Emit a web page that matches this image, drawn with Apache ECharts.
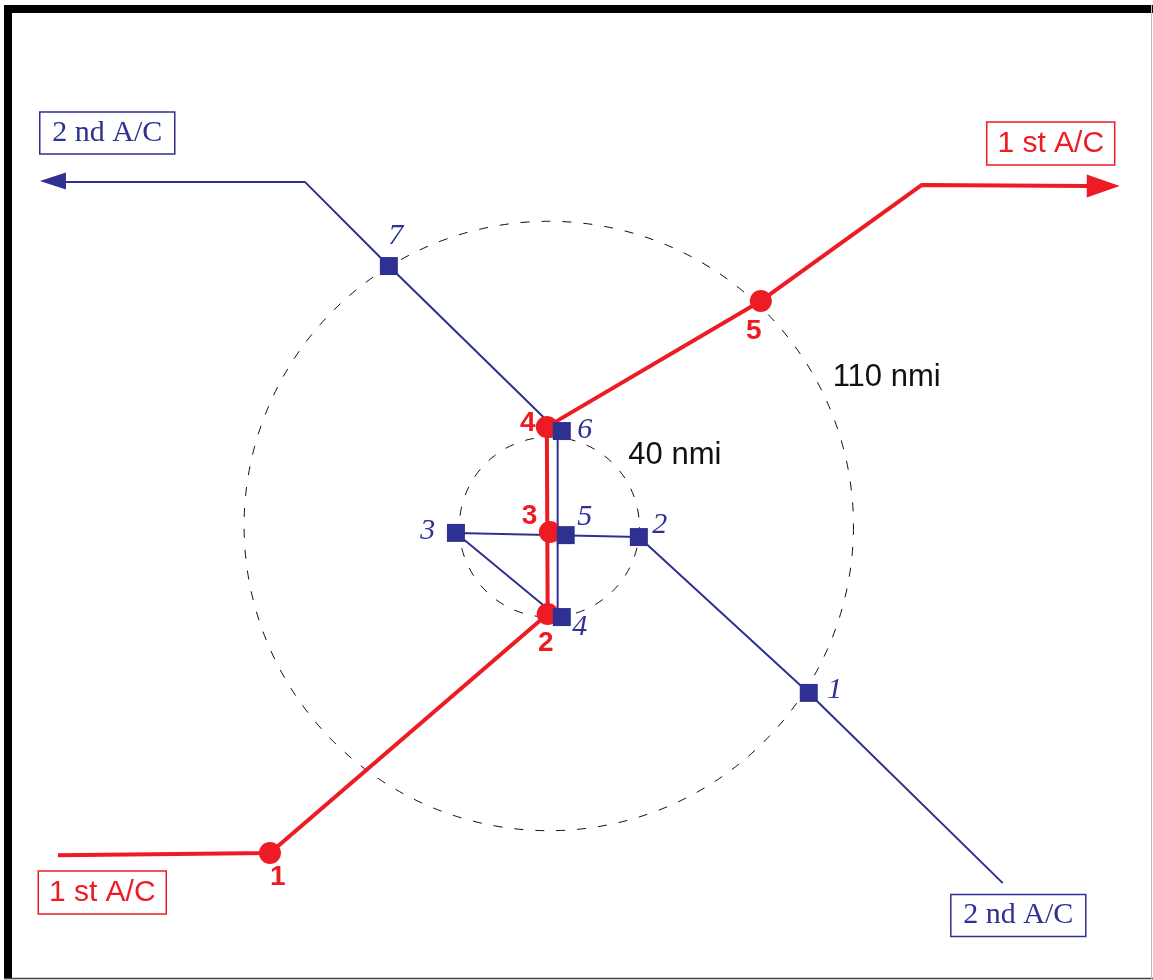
<!DOCTYPE html>
<html>
<head>
<meta charset="utf-8">
<script src="https://cdn.jsdelivr.net/npm/echarts@6/dist/echarts.min.js"></script>
<style>
  html, body { margin: 0; padding: 0; background: #fff; }
  #chart { width: 1153px; height: 980px; }
</style>
</head>
<body>
<div id="chart"></div>
<script>
// ---- Data (units: nmi-like plot units, centre of conflict at 0,0) ----
// Range circles: [cx, cy, radius]
const rangeCircles = [[0, 0, 110], [0.2, -0.4, 32.5]];
const rangeLabels = [
  { name: '110 nmi', value: [121.9, 53.5] },
  { name: '40 nmi', value: [45.5, 25.6] }
];

// 1st aircraft (red) trajectory vertices
const redPath = [[-177.1, -118.9], [-100.6, -118.1], [-0.4, -31.8], [-0.7, 35.8], [76.5, 81.3], [134.6, 123.2], [195.2, 122.8]];
// 1st aircraft waypoints 1..5
const redPoints = [[-100.6, -118.1], [-0.4, -31.8], [0.4, -2.2], [-0.7, 35.8], [76.5, 81.3]];
const redPointLabels = [
  { name: '1', value: [-97.8, -126.8] },
  { name: '2', value: [-1.1, -42.3] },
  { name: '3', value: [-6.9, 3.6] },
  { name: '4', value: [-7.6, 37.2] },
  { name: '5', value: [74.0, 70.4] }
];
const redArrow = [[206.0, 122.8, 1]];
const redBoxes = [
  { name: '1 st A/C', value: [181.1, 138.2] },
  { name: '1 st A/C', value: [-161.1, -132.4] }
];

// 2nd aircraft (blue) trajectory vertices
const bluePath = [[163.8, -129.0], [93.8, -60.3], [32.5, -4.0], [-33.5, -2.5], [3.2, -32.9], [3.2, 34.3], [-57.7, 93.9], [-88.0, 124.3], [-174.2, 124.3]];
// 2nd aircraft waypoints 1..7
const bluePoints = [[93.8, -60.3], [32.5, -4.0], [-33.5, -2.5], [4.7, -32.9], [6.1, -3.3], [4.7, 34.3], [-57.7, 93.9]];
const bluePointLabels = [
  { name: '1', value: [103.2, -59.2] },
  { name: '2', value: [40.0, 0.4] },
  { name: '3', value: [-43.7, -1.8] },
  { name: '4', value: [11.2, -36.5] },
  { name: '5', value: [13.0, 3.3] },
  { name: '6', value: [13.0, 34.7] },
  { name: '7', value: [-55.2, 104.8] }
];
const blueArrow = [[-183.6, 124.6, -1]];
const blueBoxes = [
  { name: '2 nd A/C', value: [-159.3, 142.0] },
  { name: '2 nd A/C', value: [169.4, -140.7] }
];

// ---- Styling ----
const RED = '#ED1C24';
const BLUE = '#2E3192';
const SANS = '"Liberation Sans", Arial, Helvetica, sans-serif';
const SERIF = '"Liberation Serif", "Times New Roman", serif';

function arrowRenderer(len, half, color) {
  return function (params, api) {
    const tip = api.coord([api.value(0), api.value(1)]);
    const dir = api.value(2);
    return {
      type: 'polygon',
      shape: { points: [tip, [tip[0] - dir * len, tip[1] - half], [tip[0] - dir * len, tip[1] + half]] },
      style: { fill: color, stroke: null }
    };
  };
}

function textSeries(data, color, size, family, weight, style, z) {
  return {
    type: 'scatter', data: data, symbolSize: 1, z: z, silent: true,
    itemStyle: { color: 'rgba(0,0,0,0)', opacity: 1 },
    label: {
      show: true, position: 'inside', formatter: '{b}', opacity: 1,
      color: color, fontSize: size, fontFamily: family, fontWeight: weight, fontStyle: style
    }
  };
}

function boxSeries(data, color, size, family, w, h) {
  return {
    type: 'scatter', data: data, symbolSize: 1, z: 10, silent: true,
    itemStyle: { color: 'rgba(0,0,0,0)', opacity: 1 },
    label: {
      show: true, position: 'inside', formatter: '{b}', opacity: 1,
      color: color, fontSize: size, fontFamily: family,
      borderColor: color, borderWidth: 1.5,
      width: w, height: h, lineHeight: h, align: 'center', verticalAlign: 'middle', padding: 0
    }
  };
}

const chart = echarts.init(document.getElementById('chart'), null, { renderer: 'canvas' });
chart.setOption({
  animation: false,
  backgroundColor: '#fff',
  grid: { left: 0, top: 0, width: 1153, height: 980 },
  xAxis: { type: 'value', min: -198, max: 218, show: false },
  yAxis: { type: 'value', min: -164, max: 190, show: false },
  graphic: [
    { type: 'rect', shape: { x: 4, y: 5, width: 1149, height: 8 }, style: { fill: '#000' }, z: 100 },
    { type: 'rect', shape: { x: 4, y: 5, width: 8, height: 974 }, style: { fill: '#000' }, z: 100 },
    { type: 'line', shape: { x1: 4, y1: 978.5, x2: 1153, y2: 978.5 }, style: { stroke: '#444', lineWidth: 1.5 }, z: 100 },
    { type: 'line', shape: { x1: 1151.5, y1: 5, x2: 1151.5, y2: 979 }, style: { stroke: '#bbb', lineWidth: 1 }, z: 100 }
  ],
  series: [
    {
      type: 'custom', data: rangeCircles, z: 1, silent: true,
      renderItem: function (params, api) {
        const c = api.coord([api.value(0), api.value(1)]);
        const s = api.size([api.value(2), api.value(2)]);
        return {
          type: 'circle', shape: { cx: c[0], cy: c[1], r: (s[0] + s[1]) / 2 },
          style: { fill: null, stroke: '#111', lineWidth: 1, lineDash: [9, 12] }
        };
      }
    },
    textSeries(rangeLabels, '#111', 31, SANS, 'normal', 'normal', 5),
    {
      type: 'line', data: bluePath, z: 2, silent: true, showSymbol: false, symbol: 'none',
      lineStyle: { color: BLUE, width: 2 }
    },
    { type: 'custom', data: blueArrow, z: 2, silent: true, renderItem: arrowRenderer(26, 8.5, BLUE) },
    {
      type: 'line', data: redPath, z: 3, silent: true, showSymbol: false, symbol: 'none',
      lineStyle: { color: RED, width: 4 }
    },
    { type: 'custom', data: redArrow, z: 3, silent: true, renderItem: arrowRenderer(33, 11.5, RED) },
    {
      type: 'scatter', data: redPoints, z: 4, silent: true, symbol: 'circle', symbolSize: 22,
      itemStyle: { color: RED, opacity: 1 }
    },
    {
      type: 'scatter', data: bluePoints, z: 5, silent: true, symbol: 'rect', symbolSize: 18,
      itemStyle: { color: BLUE, opacity: 1 }
    },
    textSeries(redPointLabels, RED, 28, SANS, 'bold', 'normal', 6),
    textSeries(bluePointLabels, BLUE, 30, SERIF, 'normal', 'italic', 6),
    boxSeries(redBoxes, RED, 30, SANS, 128, 43),
    boxSeries(blueBoxes, BLUE, 30, SERIF, 135, 42)
  ]
});
</script>
</body>
</html>
